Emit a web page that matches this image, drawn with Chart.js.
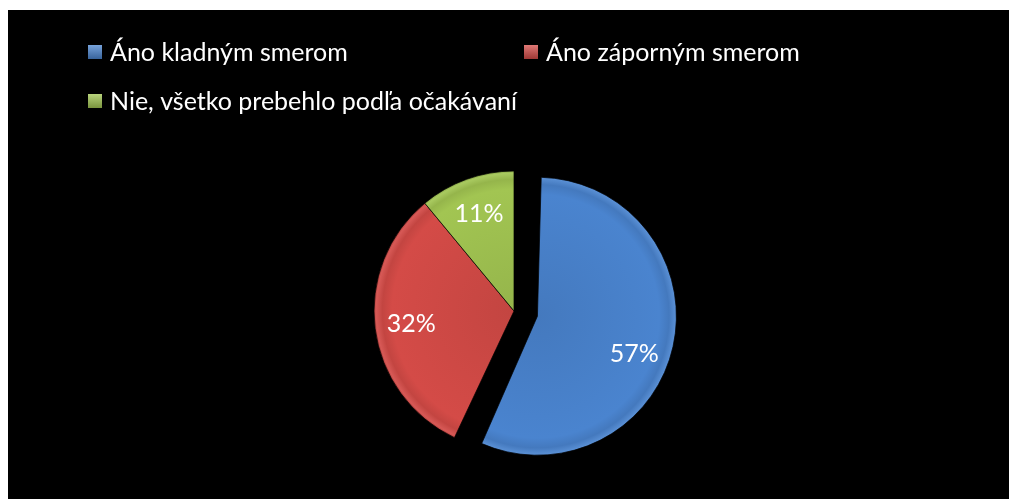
<!DOCTYPE html>
<html>
<head>
<meta charset="utf-8">
<script src="https://cdn.jsdelivr.net/npm/chart.js@4"></script>
<style>
  body { margin: 0; background: #fff; }
  #wrap { position: absolute; left: 8px; top: 10px; width: 1001px; height: 489px; background: #000; }
</style>
</head>
<body>
<div id="wrap"><canvas id="myChart" width="1001" height="489"></canvas></div>
<script>
var labels = ['Áno kladným smerom', 'Áno záporným smerom', 'Nie, všetko prebehlo podľa očakávaní'];
var values = [57, 32, 11];
var colors = ['#4a84cf', '#d44b47', '#a2c552'];
var explode = [96, 0, 0]; // blue slice pulled out

var FONT = 'Lato, "Open Sans", sans-serif';

function shade(hex, f) {
    var n = parseInt(hex.slice(1), 16);
    var r = (n >> 16) & 255, g = (n >> 8) & 255, b = n & 255;
    function c(v) { return Math.max(0, Math.min(255, Math.round(f > 0 ? v + (255 - v) * f : v * (1 + f)))); }
    return 'rgb(' + c(r) + ',' + c(g) + ',' + c(b) + ')';
}

// bevel-like fill
function sliceFill(c) {
    var base = colors[c.dataIndex];
    var chart = c.chart;
    var a = chart.chartArea;
    if (!a) return base;
    var cx = (a.left + a.right) / 2, cy = (a.top + a.bottom) / 2;
    var r = 140;
    var g = chart.ctx.createRadialGradient(cx, cy, 0, cx, cy, r);
    g.addColorStop(0, shade(base, -0.08));
    g.addColorStop(0.87, base);
    g.addColorStop(0.94, shade(base, -0.08));
    g.addColorStop(0.985, shade(base, 0.08));
    g.addColorStop(1, shade(base, -0.15));
    return g;
}

// keep the pulled-out slice the same size as the others
var keepRadius = {
    id: 'keepRadius',
    beforeDatasetsDraw: function(chart) {
        var meta = chart.getDatasetMeta(0);
        var R = meta.controller.outerRadius;
        meta.data.forEach(function(arc, i) {
            var circ = arc.endAngle - arc.startAngle;
            var off = explode[i] / 4;
            var fix = 1 - Math.sin(Math.min(Math.PI, circ));
            arc.outerRadius = R - off * fix - (explode[i] ? 1 : 0);
        });
    }
};

var pctLabels = {
    id: 'pctLabels',
    afterDatasetsDraw: function(chart) {
        var ctx = chart.ctx;
        var meta = chart.getDatasetMeta(0);
        var R = meta.controller.outerRadius;
        ctx.save();
        ctx.fillStyle = '#fff';
        ctx.font = '25px ' + FONT;
        ctx.textAlign = 'center';
        ctx.textBaseline = 'middle';
        meta.data.forEach(function(arc, i) {
            var h = (arc.startAngle + arc.endAngle) / 2;
            if (explode[i]) h += 0.12; // label sits a little lower on the big slice
            var off = explode[i] / 4;
            var x = arc.x + Math.cos(h) * off + Math.cos(h) * R * 0.74;
            var y = arc.y + Math.sin(h) * off + Math.sin(h) * R * 0.74;
            ctx.fillText(values[i] + '%', x, y);
        });
        ctx.restore();
    }
};

// legend in two columns like the original
var gridLegend = {
    id: 'gridLegend',
    afterDraw: function(chart) {
        var ctx = chart.ctx;
        var colX = [80, 516];
        var rowY = [35, 84];
        var box = 14;
        ctx.save();
        ctx.font = '25px ' + FONT;
        ctx.textBaseline = 'middle';
        labels.forEach(function(lab, i) {
            var x = colX[i % 2];
            var y = rowY[Math.floor(i / 2)];
            var g = ctx.createLinearGradient(x, y, x, y + box);
            g.addColorStop(0, shade(colors[i], 0.25));
            g.addColorStop(1, shade(colors[i], -0.25));
            ctx.fillStyle = g;
            ctx.fillRect(x, y, box, box);
            ctx.fillStyle = '#fff';
            ctx.fillText(lab, x + box + 8, y + box / 2 + 1);
        });
        ctx.restore();
    }
};

var ctx = document.getElementById('myChart').getContext('2d');
window.myChart = new Chart(ctx, {
    type: 'pie',
    data: {
        labels: labels,
        datasets: [{
            data: values,
            backgroundColor: sliceFill,
            borderColor: 'rgba(0,0,0,0.7)',
            borderWidth: 1,
            offset: explode
        }]
    },
    options: {
        responsive: false,
        animation: false,
        radius: 140,
        layout: { padding: { left: 20, right: 9, top: 120, bottom: 7 } },
        plugins: {
            legend: { display: false },
            tooltip: { enabled: false }
        }
    },
    plugins: [keepRadius, pctLabels, gridLegend]
});
</script>
</body>
</html>
